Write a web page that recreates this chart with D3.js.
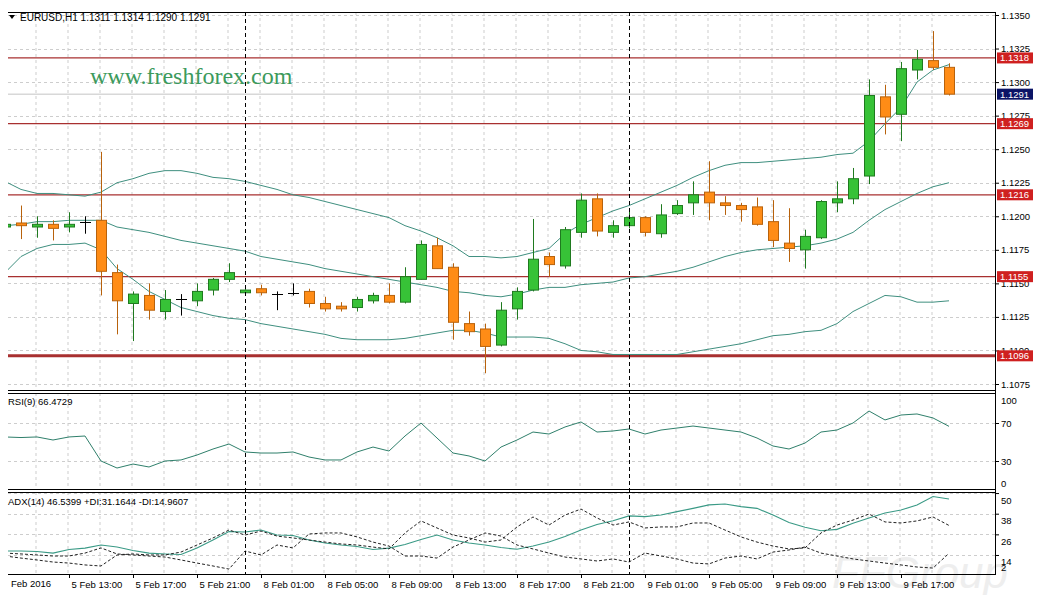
<!doctype html>
<meta charset="utf-8">
<script src="https://d3js.org/d3.v7.min.js"></script>
<style>
body { margin: 0; background: #fff; }
svg { display: block; font-family: "Liberation Sans", Arial, sans-serif; }
</style>
<body>
<script>

// ---- data (EURUSD H1, 5 Feb 09:00 .. 9 Feb 20:00) ----
var opens = [1.1192,1.1195,1.1192,1.1194,1.1192,1.1196,1.1197,1.1158,1.1135,1.1141,
    1.1129,1.1138,1.1137,1.1145,1.1153,1.1143,1.1146,1.1142,1.1143,1.1144,
    1.1135,1.1133,1.1132,1.1137,1.1141,1.1136,1.1153,1.1178,1.1162,1.1120,
    1.1116,1.1104,1.1131,1.1145,1.1170,1.1163,1.1188,1.1213,1.1188,1.1193,
    1.1199,1.1187,1.1202,1.1210,1.1218,1.1210,1.1208,1.1207,1.1196,1.1180,
    1.1175,1.1184,1.1210,1.1213,1.1230,1.1289,1.1276,1.1309,1.1316,1.1311];
var highs = [1.1196,1.1208,1.1200,1.1197,1.1203,1.1200,1.1248,1.1164,1.1144,1.1150,
    1.1145,1.1142,1.1150,1.1154,1.1165,1.1147,1.1149,1.1144,1.1150,1.1146,
    1.1140,1.1136,1.1140,1.1143,1.1150,1.1162,1.1182,1.1184,1.1165,1.1129,
    1.1120,1.1136,1.1147,1.1198,1.1173,1.1192,1.1217,1.1217,1.1197,1.1206,
    1.1200,1.1209,1.1212,1.1226,1.1241,1.1215,1.1210,1.1214,1.1212,1.1206,
    1.1190,1.1212,1.1226,1.1236,1.1302,1.1298,1.1315,1.1324,1.1338,1.1314];
var lows = [1.1190,1.1183,1.1184,1.1182,1.1188,1.1187,1.1141,1.1112,1.1107,1.1123,
    1.1123,1.1126,1.1133,1.1141,1.1151,1.1142,1.1141,1.1130,1.1141,1.1132,
    1.1129,1.1129,1.1129,1.1135,1.1135,1.1135,1.1153,1.1161,1.1108,1.1111,
    1.1083,1.1103,1.1123,1.1144,1.1155,1.1161,1.1184,1.1185,1.1184,1.1191,
    1.1185,1.1184,1.1201,1.1201,1.1197,1.1201,1.1196,1.1193,1.1177,1.1166,
    1.1161,1.1183,1.1203,1.1209,1.1224,1.1261,1.1256,1.1302,1.1309,1.1290];
var closes = [1.1194,1.1193,1.1194,1.1191,1.1194,1.1196,1.1159,1.1137,1.1142,1.1130,
    1.1138,1.1138,1.1144,1.1153,1.1158,1.1145,1.1143,1.1142,1.1143,1.1135,
    1.1131,1.1131,1.1138,1.1141,1.1136,1.1155,1.1179,1.1161,1.1121,1.1114,
    1.1103,1.1130,1.1144,1.1168,1.1164,1.1190,1.1212,1.1189,1.1193,1.1199,
    1.1188,1.1201,1.1208,1.1216,1.1210,1.1208,1.1205,1.1194,1.1182,1.1176,
    1.1185,1.1211,1.1213,1.1228,1.1290,1.1274,1.1310,1.1317,1.1311,1.1291];

var bbUpper = [1.1226,1.1220,1.1217,1.1217,1.1216,1.1215,1.1218,1.1225,1.1228,1.1232,
    1.1234,1.1234,1.1232,1.1229,1.1228,1.1226,1.1223,1.1220,1.1216,1.1214,
    1.1211,1.1208,1.1205,1.1202,1.1199,1.1193,1.1189,1.1184,1.1178,1.1170,
    1.1170,1.1169,1.1170,1.1173,1.1176,1.1187,1.1194,1.1199,1.1204,1.1208,
    1.1213,1.1218,1.1223,1.1229,1.1234,1.1238,1.1240,1.1240,1.1241,1.1242,
    1.1243,1.1244,1.1246,1.1247,1.1256,1.1269,1.1281,1.1300,1.1309,1.1313];
var bbMiddle = [1.1193,1.1194,1.1196,1.1196,1.1197,1.1197,1.1197,1.1192,1.1190,1.1188,
    1.1185,1.1182,1.1180,1.1178,1.1176,1.1174,1.1170,1.1168,1.1166,1.1164,
    1.1161,1.1159,1.1157,1.1155,1.1153,1.1151,1.1149,1.1147,1.1144,1.1143,
    1.1141,1.1140,1.1142,1.1145,1.1147,1.1147,1.1149,1.1150,1.1151,1.1154,
    1.1155,1.1157,1.1159,1.1162,1.1166,1.1170,1.1173,1.1175,1.1176,1.1177,
    1.1178,1.1180,1.1183,1.1188,1.1197,1.1205,1.1211,1.1217,1.1222,1.1225];
var bbLower = [1.1158,1.1170,1.1176,1.1179,1.1179,1.1180,1.1175,1.1161,1.1153,1.1144,
    1.1138,1.1132,1.1129,1.1126,1.1124,1.1123,1.1120,1.1118,1.1116,1.1114,
    1.1112,1.1109,1.1108,1.1108,1.1108,1.1109,1.1111,1.1113,1.1115,1.1115,
    1.1113,1.1110,1.1110,1.1110,1.1109,1.1105,1.1100,1.1099,1.1097,1.1097,
    1.1097,1.1097,1.1097,1.1099,1.1101,1.1103,1.1105,1.1108,1.1111,1.1112,
    1.1114,1.1115,1.1120,1.1129,1.1135,1.1141,1.1140,1.1136,1.1136,1.1137];

var rsi = [55.3,54.7,55.3,52.1,55.3,56.3,30.0,22.6,26.8,23.7,
    30.0,31.1,36.3,42.6,47.9,39.5,38.4,38.4,39.5,34.2,
    31.1,31.1,39.5,44.7,40.5,56.3,70.0,54.2,38.4,35.3,
    30.0,44.7,52.1,60.5,58.4,65.8,71.1,60.5,61.6,63.7,
    58.4,62.6,64.7,66.8,64.7,62.6,60.5,54.2,45.8,42.6,
    48.9,60.5,62.6,70.0,82.6,73.2,78.4,79.5,75.3,66.47];

var adx = [16.3,16.3,16.0,15.1,17.2,18.0,19.8,18.6,16.6,15.1,
    14.6,14.3,18.0,22.7,27.6,27.4,28.5,25.6,25.3,22.7,
    21.0,19.8,18.9,17.2,18.0,20.1,23.0,25.6,22.7,21.0,
    19.8,18.3,17.3,19.2,21.5,24.7,28.5,31.7,33.9,36.7,
    36.3,37.2,39.2,41.1,43.1,43.6,42.1,41.1,37.2,32.9,
    30.1,28.1,28.9,32.4,35.5,38.4,40.1,43.1,48.0,46.54];
var plusDI = [13.4,12.2,11.1,9.9,9.3,8.2,7.6,14.0,14.6,14.0,
    14.0,15.7,19.8,23.9,28.5,25.6,27.9,25.0,23.9,22.7,
    21.5,20.4,19.8,18.6,17.5,26.8,33.8,29.7,25.6,23.9,
    21.5,22.7,30.3,36.1,31.4,37.2,40.7,35.5,31.4,33.2,
    29.7,30.3,30.3,32.6,32.6,28.5,24.5,21.5,19.2,17.5,
    18.1,26.8,31.4,34.3,37.8,33.2,32.6,33.8,36.1,31.16];
var minusDI = [15.1,14.6,14.0,13.4,13.4,15.1,18.1,14.6,14.0,13.4,
    12.8,11.1,9.3,7.6,5.8,16.3,14.0,19.8,18.1,26.2,
    26.8,26.8,24.5,21.5,19.2,13.4,13.4,12.2,18.6,22.7,
    26.8,25.0,19.8,17.5,15.1,12.8,11.7,10.5,11.7,9.9,
    15.1,13.4,11.7,9.3,8.8,12.2,13.4,11.7,15.7,16.9,
    18.6,15.1,13.4,11.7,10.5,9.3,8.2,7.0,6.4,14.96];

var levels = [1.1318, 1.1269, 1.1216, 1.1155, 1.1096];
var bid = 1.1291;
var priceTicks = [1.1350,1.1325,1.1300,1.1275,1.1250,1.1225,1.1200,1.1175,1.1150,1.1125,1.1100,1.1075];
var rsiTicks = [70, 30];
var rsiEdgeLabels = ["100", "0"];
var adxTicks = [50, 38, 26, 14];
var adxBottomLabel = "2";
var timeTickIdx = [4,8,12,16,20,24,28,32,36,40,44,48,52,56];
var timeLabels = ["5 Feb 13:00","5 Feb 17:00","5 Feb 21:00","8 Feb 01:00","8 Feb 05:00",
    "8 Feb 09:00","8 Feb 13:00","8 Feb 17:00","8 Feb 21:00","9 Feb 01:00",
    "9 Feb 05:00","9 Feb 09:00","9 Feb 13:00","9 Feb 17:00"];
var firstLabel = "Feb 2016";
var daySeparators = [15, 39];

var header = "EURUSD,H1  1.1311 1.1314 1.1290 1.1291";
var rsiTitle = "RSI(9) 66.4729";
var adxTitle = "ADX(14) 46.5399 +DI:31.1644 -DI:14.9607";

// ---- layout ----
var width = 1042, height = 595;
var left = 8, right = 995;
var main = {top: 12, bottom: 390};
var pRsi = {top: 393, bottom: 489};
var pAdx = {top: 492, bottom: 574};

var x = d3.scaleLinear().domain([0, 59]).range([5, 949]);
var y = d3.scaleLinear().domain([1.1075, 1.1350]).range([384, 15]);
var yRsi = d3.scaleLinear().domain([0, 100]).range([489.5, 394.5]);
var yAdx = d3.scaleLinear().domain([2.94, 50.61]).range([574, 492]);

var gridColor = "#cdcdcd";
var bandColor = "#3f8f7f";
var levelColor = "#a83030";

var svg = d3.select("body")
        .append("svg")
        .attr("width", width)
        .attr("height", height);

svg.append("rect").attr("width", width).attr("height", height).attr("fill", "#fff");

// faint watermark bottom right
svg.append("text")
        .attr("x", 832).attr("y", 588)
        .attr("font-size", 44)
        .attr("font-style", "italic")
        .attr("fill", "#eeeeee")
        .text("FFGroup");

var defs = svg.append("defs");
[["clipMain", main], ["clipRsi", pRsi], ["clipAdx", pAdx]].forEach(function(c){
    defs.append("clipPath").attr("id", c[0])
        .append("rect")
        .attr("x", left).attr("y", c[1].top)
        .attr("width", right - left).attr("height", c[1].bottom - c[1].top);
});

function vGrid(g, p) {
    g.selectAll(".vg")
        .data(d3.range(0, 60, 2))
        .enter().append("line")
        .attr("x1", function(d){ return x(d) - 1; })
        .attr("x2", function(d){ return x(d) - 1; })
        .attr("y1", p.top).attr("y2", p.bottom)
        .attr("stroke", gridColor)
        .attr("stroke-dasharray", "3,3");
}

function hGrid(g, vals, scale) {
    g.selectAll(".hg")
        .data(vals)
        .enter().append("line")
        .attr("x1", left).attr("x2", right)
        .attr("y1", function(d){ return Math.round(scale(d)) + 0.5; })
        .attr("y2", function(d){ return Math.round(scale(d)) + 0.5; })
        .attr("stroke", gridColor)
        .attr("stroke-dasharray", "3,3");
}

// ---- main panel ----
var gMain = svg.append("g").attr("clip-path", "url(#clipMain)");
vGrid(gMain, main);
hGrid(gMain, priceTicks, y);

// bid line
gMain.append("line")
        .attr("x1", left).attr("x2", right)
        .attr("y1", y(bid)).attr("y2", y(bid))
        .attr("stroke", "#c4c4c4");

// support / resistance
gMain.selectAll(".level")
        .data(levels)
        .enter().append("line")
        .attr("x1", left).attr("x2", right)
        .attr("y1", function(d){ return y(d); })
        .attr("y2", function(d){ return y(d); })
        .attr("stroke", levelColor)
        .attr("stroke-width", function(d, i){ return i === levels.length - 1 ? 3 : 1.2; });

var bandLine = d3.line()
        .x(function(d, i){ return x(i); })
        .y(function(d){ return y(d); });

[bbUpper, bbMiddle, bbLower].forEach(function(s){
    gMain.append("path")
        .attr("d", bandLine(s))
        .attr("fill", "none")
        .attr("stroke", bandColor)
        .attr("stroke-width", 1);
});

var candles = opens.map(function(o, i){
    return {i: i, o: o, h: highs[i], l: lows[i], c: closes[i]};
});

function candleStroke(d) {
    if (d.c === d.o) return "#000";
    return d.c > d.o ? "#1f7a1f" : "#b8620c";
}

var gC = gMain.selectAll(".candle")
        .data(candles)
        .enter().append("g");

gC.append("line")
        .attr("x1", function(d){ return Math.round(x(d.i)) + 0.5; })
        .attr("x2", function(d){ return Math.round(x(d.i)) + 0.5; })
        .attr("y1", function(d){ return y(d.h); })
        .attr("y2", function(d){ return y(d.l); })
        .attr("stroke", candleStroke);

gC.filter(function(d){ return d.c !== d.o; })
        .append("rect")
        .attr("x", function(d){ return Math.round(x(d.i)) - 4.5; })
        .attr("width", 10)
        .attr("y", function(d){ return y(Math.max(d.o, d.c)); })
        .attr("height", function(d){ return Math.max(1, Math.abs(y(d.o) - y(d.c))); })
        .attr("fill", function(d){ return d.c > d.o ? "#37c237" : "#ff8c16"; })
        .attr("stroke", candleStroke);

gC.filter(function(d){ return d.c === d.o; })
        .append("line")
        .attr("x1", function(d){ return Math.round(x(d.i)) - 5; })
        .attr("x2", function(d){ return Math.round(x(d.i)) + 6; })
        .attr("y1", function(d){ return Math.round(y(d.c)) + 0.5; })
        .attr("y2", function(d){ return Math.round(y(d.c)) + 0.5; })
        .attr("stroke", "#000");

// watermark
svg.append("text")
        .attr("x", 90).attr("y", 84)
        .attr("font-family", "'Liberation Serif', 'Times New Roman', serif")
        .attr("font-size", 24)
        .attr("fill", "#3c9a5c")
        .text("www.freshforex.com");

// header
svg.append("path")
        .attr("d", "M9,15 L15,15 L12,19 Z")
        .attr("fill", "#000");
svg.append("text")
        .attr("x", 20).attr("y", 20.5)
        .attr("font-size", 10)
        .text(header);

// ---- RSI panel ----
var gRsi = svg.append("g").attr("clip-path", "url(#clipRsi)");
vGrid(gRsi, pRsi);
hGrid(gRsi, rsiTicks, yRsi);
gRsi.append("path")
        .attr("d", d3.line().x(function(d, i){ return x(i); }).y(function(d){ return yRsi(d); })(rsi))
        .attr("fill", "none")
        .attr("stroke", "#2f7f6b")
        .attr("stroke-width", 1);
svg.append("text")
        .attr("x", 8).attr("y", 405)
        .attr("font-size", 9.5)
        .text(rsiTitle);

// ---- ADX panel ----
var gAdx = svg.append("g").attr("clip-path", "url(#clipAdx)");
vGrid(gAdx, pAdx);
hGrid(gAdx, adxTicks, yAdx);
var adxLine = d3.line().x(function(d, i){ return x(i); }).y(function(d){ return yAdx(d); });
gAdx.append("path")
        .attr("d", adxLine(adx))
        .attr("fill", "none")
        .attr("stroke", "#3a9a86")
        .attr("stroke-width", 1.1);
[plusDI, minusDI].forEach(function(s){
    gAdx.append("path")
        .attr("d", adxLine(s))
        .attr("fill", "none")
        .attr("stroke", "#222")
        .attr("stroke-width", 1)
        .attr("stroke-dasharray", "3,2");
});
svg.append("text")
        .attr("x", 8).attr("y", 505)
        .attr("font-size", 9.5)
        .text(adxTitle);

// ---- day separators ----
svg.selectAll(".sep")
        .data(daySeparators)
        .enter().append("line")
        .attr("x1", function(d){ return Math.round(x(d)) + 0.5; })
        .attr("x2", function(d){ return Math.round(x(d)) + 0.5; })
        .attr("y1", main.top).attr("y2", pAdx.bottom)
        .attr("stroke", "#000")
        .attr("stroke-dasharray", "4,3");

// ---- frames ----
var frame = svg.append("g").attr("stroke", "#000").attr("shape-rendering", "crispEdges");
[main.top, main.bottom, pRsi.top, pRsi.bottom, pAdx.top, pAdx.bottom].forEach(function(v){
    frame.append("line").attr("x1", left).attr("x2", right + 1).attr("y1", v + 0.5).attr("y2", v + 0.5);
});
frame.append("line").attr("x1", right + 0.5).attr("x2", right + 0.5).attr("y1", main.top).attr("y2", pAdx.bottom);

// ---- axes ----
function styleAxis(g) {
    g.select(".domain").remove();
    g.selectAll("text").attr("font-size", 9.5).attr("fill", "#000")
        .attr("font-family", "'Liberation Sans', Arial, sans-serif");
    g.selectAll("line").attr("stroke", "#000");
}

svg.append("g")
        .attr("transform", "translate(" + right + ",0)")
        .call(d3.axisRight(y).tickValues(priceTicks).tickFormat(d3.format(".4f")).tickSize(4).tickPadding(2))
        .call(styleAxis);

svg.append("g")
        .attr("transform", "translate(" + right + ",0)")
        .call(d3.axisRight(yRsi).tickValues(rsiTicks).tickSize(4).tickPadding(2))
        .call(styleAxis);
svg.append("text").attr("x", 1001).attr("y", 403.5).attr("font-size", 9.5).text(rsiEdgeLabels[0]);
svg.append("text").attr("x", 1001).attr("y", 487).attr("font-size", 9.5).text(rsiEdgeLabels[1]);

var adxAxis = svg.append("g")
        .attr("transform", "translate(" + right + ",0)")
        .call(d3.axisRight(yAdx).tickValues(adxTicks).tickSize(4).tickPadding(2))
        .call(styleAxis);
adxAxis.selectAll("text").attr("dy", "1.05em");
svg.append("text").attr("x", 1001).attr("y", 571).attr("font-size", 9.5).text(adxBottomLabel);

var xAxis = svg.append("g")
        .attr("transform", "translate(0," + pAdx.bottom + ")")
        .call(d3.axisBottom(x).tickValues(timeTickIdx)
            .tickFormat(function(d, i){ return timeLabels[i]; })
            .tickSize(4).tickPadding(3))
        .call(styleAxis);
xAxis.selectAll("text").attr("text-anchor", "start").attr("x", 2);
svg.append("text").attr("x", 11).attr("y", 587).attr("font-size", 9.5).text(firstLabel);

// ---- price tags ----
var tags = levels.map(function(v){ return {v: v, fill: "#cf2020"}; })
        .concat([{v: bid, fill: "#0b1466"}]);
var tg = svg.selectAll(".tag")
        .data(tags)
        .enter().append("g")
        .attr("transform", function(d){ return "translate(997," + (y(d.v) - 5.5) + ")"; });
tg.append("rect")
        .attr("width", 36).attr("height", 11)
        .attr("fill", function(d){ return d.fill; });
tg.append("text")
        .attr("x", 3).attr("y", 9)
        .attr("font-size", 9.5)
        .attr("fill", "#fff")
        .text(function(d){ return d3.format(".4f")(d.v); });

</script>
